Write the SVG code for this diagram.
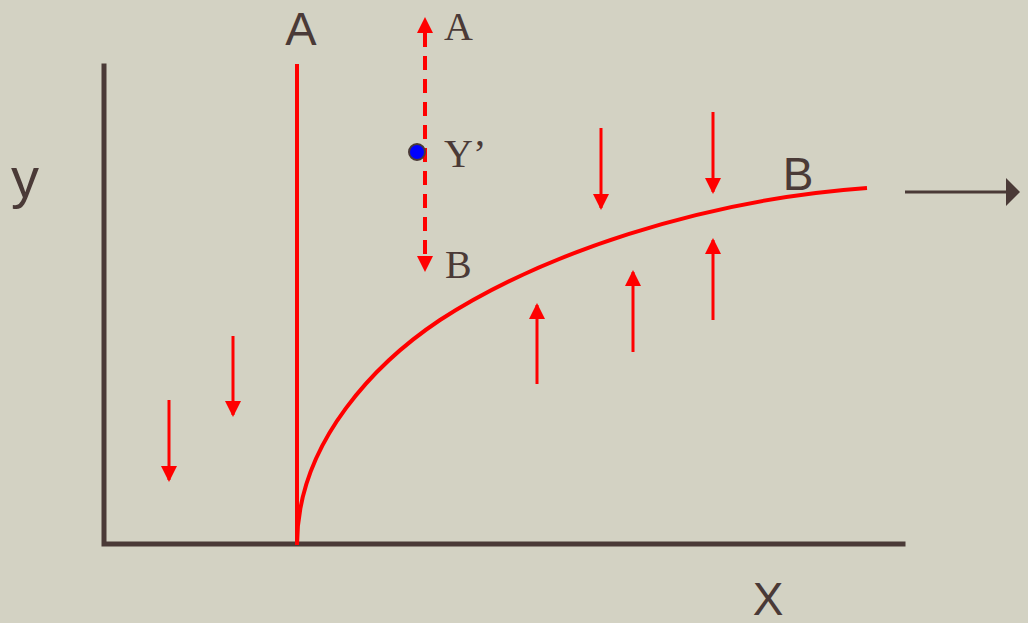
<svg xmlns="http://www.w3.org/2000/svg" width="1028" height="623" viewBox="0 0 1028 623">
<style>
.axis{stroke:#4a3a37;stroke-width:5;fill:none;stroke-linecap:square}
.red{stroke:#ff0000;stroke-width:4;fill:none}
.arr{stroke:#ff0000;stroke-width:3;fill:none}
.sans{font-family:"Liberation Sans",Arial,sans-serif;fill:#4a3a37}
.serif{font-family:"Liberation Serif","Times New Roman",serif;fill:#4a3a37}
</style>
<defs>
<marker id="ah" viewBox="0 0 16 16" refX="14" refY="8" markerWidth="16" markerHeight="16" markerUnits="userSpaceOnUse" orient="auto">
<path d="M0,0 L16,8 L0,16 Z" fill="#ff0000"/>
</marker>
<marker id="ahd" viewBox="0 0 14 28" refX="12" refY="14" markerWidth="14" markerHeight="28" markerUnits="userSpaceOnUse" orient="auto">
<path d="M0,0 L14,14 L0,28 Z" fill="#4a3a37"/>
</marker>
</defs>
<rect width="1028" height="623" fill="#d3d2c3"/>
<g id="axes">
<path class="axis" d="M104,66 L104,544 L903,544"/>
</g>
<g id="curves">
<line class="red" x1="297" y1="64" x2="297" y2="545"/>
<path class="red" d="M297,545 C297,440 380,360 440,320 C540,255 700,200 867,188"/>
</g>
<g id="connectors">
<line x1="425" y1="33" x2="425" y2="256" stroke="#ff0000" stroke-width="4" stroke-dasharray="14,9"/>
<path d="M417,33 L425,17 L433,33 Z" fill="#ff0000"/>
<path d="M417,256 L425,272 L433,256 Z" fill="#ff0000"/>
<line class="arr" x1="169" y1="400" x2="169" y2="480" marker-end="url(#ah)"/>
<line class="arr" x1="233" y1="336" x2="233" y2="415" marker-end="url(#ah)"/>
<line class="arr" x1="601" y1="128" x2="601" y2="208" marker-end="url(#ah)"/>
<line class="arr" x1="713" y1="112" x2="713" y2="192" marker-end="url(#ah)"/>
<line class="arr" x1="537" y1="384" x2="537" y2="305" marker-end="url(#ah)"/>
<line class="arr" x1="633" y1="352" x2="633" y2="272" marker-end="url(#ah)"/>
<line class="arr" x1="713" y1="320" x2="713" y2="240" marker-end="url(#ah)"/>
<line x1="905" y1="192" x2="1018" y2="192" stroke="#4a3a37" stroke-width="3" marker-end="url(#ahd)"/>
</g>
<g id="point">
<circle cx="417" cy="152" r="8" fill="#0000ff" stroke="#4a3a37" stroke-width="2"/>
</g>
<g id="labels">
<text class="sans" x="301" y="45" font-size="47" text-anchor="middle">A</text>
<text class="sans" x="798" y="190" font-size="46" text-anchor="middle">B</text>
<text class="sans" x="768" y="615" font-size="46" text-anchor="middle">X</text>
<text class="sans" x="25" y="197" font-size="56" text-anchor="middle">y</text>
<text class="serif" x="444" y="40" font-size="40">A</text>
<text class="serif" x="444" y="167" font-size="40">Y’</text>
<text class="serif" x="445" y="278" font-size="40">B</text>
</g>
</svg>
